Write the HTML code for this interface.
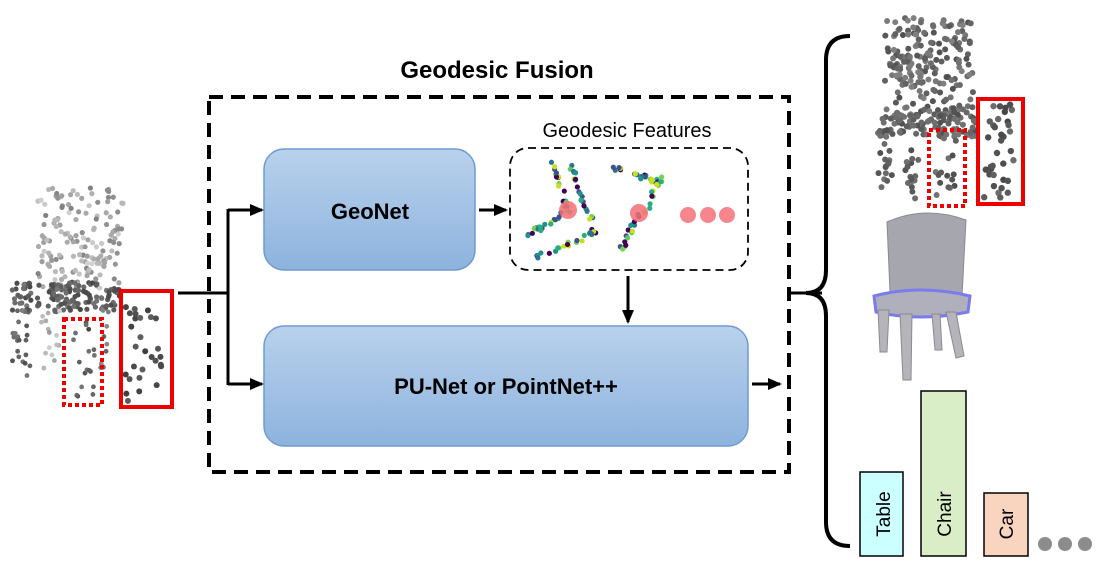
<!DOCTYPE html>
<html><head><meta charset="utf-8"><style>
body{margin:0;background:#fff;width:1097px;height:568px;overflow:hidden;font-family:"Liberation Sans",sans-serif}
</style></head><body>
<svg id="s" width="1097" height="568" viewBox="0 0 1097 568" xmlns="http://www.w3.org/2000/svg">
<defs>
<linearGradient id="g" x1="0" y1="0" x2="0" y2="1"><stop offset="0" stop-color="#b9d1ec"/><stop offset="1" stop-color="#8db3de"/></linearGradient>
<marker id="a" markerWidth="14" markerHeight="12" refX="12" refY="6" orient="auto" markerUnits="userSpaceOnUse"><path d="M0,0 L14,6 L0,12 z" fill="#000"/></marker>
</defs>
<text x="497" y="78" font-size="24" font-weight="bold" text-anchor="middle">Geodesic Fusion</text>
<rect x="209" y="97" width="580" height="375" fill="none" stroke="#000" stroke-width="4" stroke-dasharray="14,8"/>
<rect x="264" y="149" width="211" height="121" rx="20" fill="url(#g)" stroke="#6f9bd0" stroke-width="1.5"/>
<text x="370" y="219" font-size="22" font-weight="bold" text-anchor="middle">GeoNet</text>
<rect x="264" y="326" width="484" height="120" rx="20" fill="url(#g)" stroke="#6f9bd0" stroke-width="1.5"/>
<text x="506" y="394" font-size="22" font-weight="bold" text-anchor="middle">PU-Net or PointNet++</text>
<text x="627" y="137" font-size="20" text-anchor="middle">Geodesic Features</text>
<rect x="510" y="148" width="238" height="122" rx="18" fill="none" stroke="#000" stroke-width="1.8" stroke-dasharray="8,5"/>
<g id="feat"></g>
<circle cx="568" cy="210" r="9" fill="#f26d76" opacity="0.85"/>
<circle cx="639" cy="213" r="9" fill="#f26d76" opacity="0.85"/>
<circle cx="688" cy="215" r="8" fill="#f7868c"/><circle cx="708" cy="215" r="8" fill="#f7868c"/><circle cx="727" cy="215" r="8" fill="#f7868c"/>
<g stroke="#000" stroke-width="3" fill="none">
<line x1="178" y1="293" x2="228" y2="293"/>
<line x1="228" y1="209" x2="228" y2="385"/>
<line x1="228" y1="210" x2="262" y2="210" marker-end="url(#a)"/>
<line x1="228" y1="384" x2="262" y2="384" marker-end="url(#a)"/>
<line x1="479" y1="210" x2="506" y2="210" marker-end="url(#a)"/>
<line x1="628" y1="276" x2="628" y2="322" marker-end="url(#a)"/>
<line x1="752" y1="384" x2="780" y2="384" marker-end="url(#a)"/>
<line x1="790" y1="293" x2="822" y2="293"/>
<path d="M850,36 Q826,36 826,60 L826,270 Q826,293 806,293 Q826,293 826,316 L826,522 Q826,546 850,546" stroke-width="4"/>
</g>
<g id="pc"></g>
<rect x="64" y="319" width="38" height="86" fill="none" stroke="#e00" stroke-width="4" stroke-dasharray="4,3"/>
<rect x="121" y="291" width="51" height="116" fill="none" stroke="#e00" stroke-width="4"/>
<rect x="929" y="130" width="36" height="76" fill="none" stroke="#e00" stroke-width="4" stroke-dasharray="4,3"/>
<rect x="978" y="99" width="45" height="105" fill="none" stroke="#e00" stroke-width="4"/>
<g fill="#b4b4ba" stroke="#8a8a92" stroke-width="1">
<path d="M887,222 Q925,205 966,220 L962,296 L890,292 Z" fill="#a6a6ae"/>
<path d="M874,296 Q920,284 970,296 L968,312 Q920,322 876,312 Z" fill="#b0b0bc" stroke="#7b7bee" stroke-width="3"/>
<path d="M878,310 L889,310 L887,352 L880,352 Z"/>
<path d="M900,314 L912,314 L911,380 L903,380 Z"/>
<path d="M946,312 L956,312 L964,356 L956,358 Z"/>
<path d="M932,314 L940,314 L942,350 L935,350 Z"/>
</g>
<rect x="860" y="472" width="43" height="84" fill="#ccffff" stroke="#000" stroke-width="1.5"/>
<rect x="921" y="391" width="45" height="165" fill="#d9eec6" stroke="#000" stroke-width="1.5"/>
<rect x="984" y="493" width="44" height="63" fill="#f9d4be" stroke="#000" stroke-width="1.5"/>
<text transform="translate(890,514) rotate(-90)" font-size="19" text-anchor="middle">Table</text>
<text transform="translate(951,514) rotate(-90)" font-size="19" text-anchor="middle">Chair</text>
<text transform="translate(1013,524) rotate(-90)" font-size="19" text-anchor="middle">Car</text>
<circle cx="1045" cy="544" r="7" fill="#8c8c8c"/><circle cx="1065" cy="544" r="7" fill="#8c8c8c"/><circle cx="1085" cy="544" r="7" fill="#8c8c8c"/>
</svg>
<script>
var s=1;function r(){s=(s*16807)%2147483647;return s/2147483647;}
var NS="http://www.w3.org/2000/svg",pc=document.getElementById('pc'),ft=document.getElementById('feat');
function dot(g,x,y,rad,c){var e=document.createElementNS(NS,'circle');e.setAttribute('cx',x);e.setAttribute('cy',y);e.setAttribute('r',rad);e.setAttribute('fill',c);g.appendChild(e);}
function area(g,x0,y0,w,h,n,rad,c){for(var i=0;i<n;i++)dot(g,x0+r()*w,y0+r()*h,rad,c());}
function gray(a,b){return function(){var v=Math.floor(a+r()*(b-a));return 'rgb('+v+','+v+','+v+')';}}
area(pc,38,188,85,100,150,2.6,gray(130,210));
area(pc,12,282,110,30,140,2.6,gray(70,120));
area(pc,10,310,20,80,20,2.4,gray(80,130));
area(pc,40,310,20,60,15,2.4,gray(150,210));
area(pc,70,320,28,80,18,2.4,gray(70,120));
area(pc,100,310,14,60,10,2.4,gray(90,140));
area(pc,125,296,40,105,28,3,gray(60,100));
area(pc,885,18,88,100,200,3,gray(80,130));
area(pc,876,112,100,25,90,3,gray(80,120));
area(pc,878,135,14,55,16,3,gray(80,120));
area(pc,905,135,14,65,16,3,gray(80,120));
area(pc,933,135,26,65,16,3,gray(80,120));
area(pc,984,104,30,95,35,3.2,gray(70,110));
var cols=['#440154','#3b528b','#21918c','#5ec962','#c8e020','#2c728e','#27ad81','#7ad151'];
function c(){return cols[Math.floor(r()*cols.length)];}
function line(x1,y1,x2,y2,n){for(var i=0;i<n;i++){var t=r();dot(ft,x1+(x2-x1)*t+(r()-.5)*5,y1+(y2-y1)*t+(r()-.5)*5,2.6,c());}}
line(553,160,568,212,18);line(570,162,595,232,22);line(568,212,523,238,20);line(595,232,535,258,22);
line(613,167,662,183,22);line(660,178,645,212,14);line(640,212,620,250,16);
</script>
</body></html>
